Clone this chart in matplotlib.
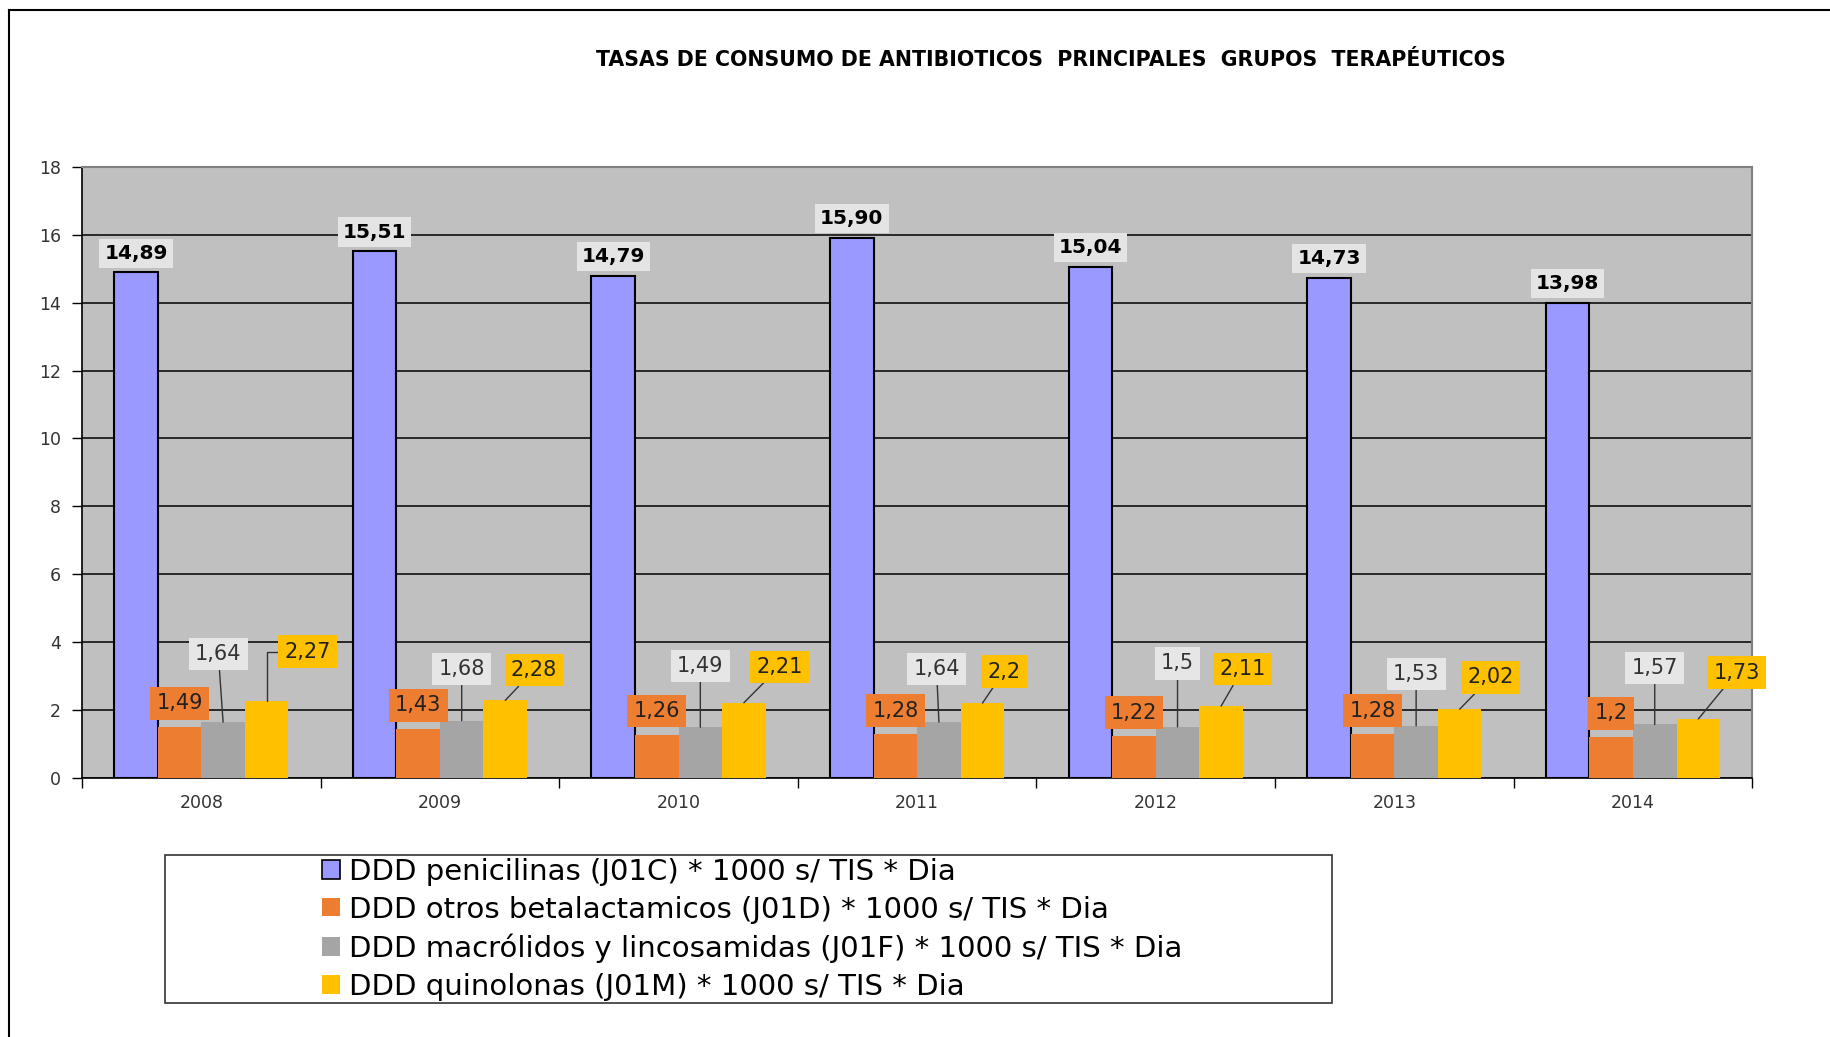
import numpy as np
import matplotlib.pyplot as plt
from matplotlib.lines import Line2D
from matplotlib.patches import Rectangle

plt.rcParams['font.family'] = ['DejaVu Sans']

years = ['2008', '2009', '2010', '2011', '2012', '2013', '2014']
penicilinas = [14.89, 15.51, 14.79, 15.90, 15.04, 14.73, 13.98]
otros_betalact = [1.49, 1.43, 1.26, 1.28, 1.22, 1.28, 1.2]
macrolidos = [1.64, 1.68, 1.49, 1.64, 1.5, 1.53, 1.57]
quinolonas = [2.27, 2.28, 2.21, 2.2, 2.11, 2.02, 1.73]
series_names = ['DDD penicilinas (J01C) * 1000 s/ TIS * Dia',
                'DDD otros betalactamicos (J01D) * 1000 s/ TIS * Dia',
                'DDD macrólidos y lincosamidas (J01F) * 1000 s/ TIS * Dia',
                'DDD quinolonas (J01M) * 1000 s/ TIS * Dia']
title = 'TASAS DE CONSUMO DE ANTIBIOTICOS  PRINCIPALES  GRUPOS  TERAPÉUTICOS'

# where the small labels sit, relative to the top of their bar (data units)
orange_dy = 0.7
gray_dx = [-0.02, 0.0, 0.0, -0.01, 0.0, 0.0, 0.0]
gray_dy = [2.0, 1.52, 1.81, 1.56, 1.87, 1.53, 1.67]
yellow_dx = [0.17, 0.12, 0.15, 0.09, 0.09, 0.13, 0.16]
yellow_dy = [1.45, 0.89, 1.06, 0.93, 1.09, 0.94, 1.37]

colors = ['#9999FF', '#ED7D31', '#A5A5A5', '#FFC000']
label_bg = ['#E4E4E4', '#ED7D31', '#E6E6E6', '#FFC000']


def fmt(v, dec=None):
    if dec is not None:
        return f"{v:.{dec}f}".replace('.', ',')
    return str(v).replace('.', ',')


fig = plt.figure(figsize=(18.31, 10.37), dpi=100)
ax = fig.add_axes([0.0448, 0.250, 0.9122, 0.589])
ax.set_facecolor('#C0C0C0')

x = np.arange(len(years))
w = 0.1825
data = [penicilinas, otros_betalact, macrolidos, quinolonas]
for k, vals in enumerate(data):
    if k == 0:
        ax.bar(x + (k - 1.5) * w, vals, w, color=colors[k], edgecolor='black', linewidth=1.5, zorder=3)
    else:
        ax.bar(x + (k - 1.5) * w, vals, w, color=colors[k], linewidth=0, zorder=3)

ax.set_xlim(-0.5, len(years) - 0.5)
ax.set_ylim(0, 18)
ax.set_yticks(np.arange(0, 19, 2))
ax.yaxis.grid(True, color='black', linewidth=1.1)
ax.set_axisbelow(True)
ax.set_xticks(np.arange(-0.5, len(years), 1))
ax.set_xticklabels([])
ax.set_xticks(x, minor=True)
ax.set_xticklabels(years, minor=True)
ax.tick_params(axis='x', which='major', length=7, width=1, direction='out')
ax.tick_params(axis='x', which='minor', length=0, pad=12, labelsize=12.5, labelcolor='#333333')
ax.tick_params(axis='y', length=7, width=1, direction='out', labelsize=12.5, labelcolor='#333333', pad=8)
for s in ['top', 'right']:
    ax.spines[s].set_color('#808080')
    ax.spines[s].set_linewidth(1.5)
for s in ['left', 'bottom']:
    ax.spines[s].set_color('black')
    ax.spines[s].set_linewidth(1.2)

# labels on top of the penicilinas bars
for xi, v in zip(x, penicilinas):
    ax.annotate(fmt(v, 2), (xi - 1.5 * w, v), xytext=(0, 14), textcoords='offset points',
                ha='center', va='center', fontsize=14.5, fontweight='bold', zorder=5,
                bbox=dict(boxstyle='square,pad=0.25', fc=label_bg[0], ec='none'))

for i, xi in enumerate(x):
    v = otros_betalact[i]
    ax.annotate(fmt(v), (xi - 0.5 * w, v), xytext=(xi - 0.5 * w, v + orange_dy),
                ha='center', va='center', fontsize=15, color='#222222', zorder=5,
                bbox=dict(boxstyle='square,pad=0.3', fc=label_bg[1], ec='none'))
    v = macrolidos[i]
    ax.annotate(fmt(v), (xi + 0.5 * w, v), xytext=(xi + 0.5 * w + gray_dx[i], v + gray_dy[i]),
                ha='center', va='center', fontsize=15, color='#333333', zorder=5,
                bbox=dict(boxstyle='square,pad=0.3', fc=label_bg[2], ec='none'),
                arrowprops=dict(arrowstyle='-', color='#333333', lw=1, shrinkA=0, shrinkB=0))
    v = quinolonas[i]
    conn = 'angle,angleA=0,angleB=90,rad=0' if i == 0 else 'arc3'
    ax.annotate(fmt(v), (xi + 1.5 * w, v), xytext=(xi + 1.5 * w + yellow_dx[i], v + yellow_dy[i]),
                ha='center', va='center', fontsize=15, color='#222222', zorder=5,
                bbox=dict(boxstyle='square,pad=0.3', fc=label_bg[3], ec='none'),
                arrowprops=dict(arrowstyle='-', color='#333333', lw=1, shrinkA=0, shrinkB=0,
                                connectionstyle=conn))

fig.text(0.574, 0.942, title, ha='center', va='center', fontsize=14.8, fontweight='bold')

# legend with a wide frame
fig.patches.append(Rectangle((0.0901, 0.0328), 0.6374, 0.1427, transform=fig.transFigure,
                             fill=False, edgecolor='#333333', linewidth=1.2))
handles = [Rectangle((0, 0), 1, 1, fc=colors[0], ec='black', lw=1.2)] + \
          [Rectangle((0, 0), 1, 1, fc=c, ec='none') for c in colors[1:]]
fig.legend(handles, series_names, loc='upper left', bbox_to_anchor=(0.176, 0.173),
           frameon=False, fontsize=21, handlelength=0.6, handleheight=0.6,
           handletextpad=0.3, labelspacing=0.34, borderpad=0, borderaxespad=0)

# outer frame of the picture
fig.add_artist(Line2D([0.0049, 1.0], [0.990, 0.990], color='black', lw=1.5, transform=fig.transFigure))
fig.add_artist(Line2D([0.0049, 0.0049], [0.0, 0.990], color='black', lw=1.5, transform=fig.transFigure))

fig.savefig('out.png', dpi=100)
